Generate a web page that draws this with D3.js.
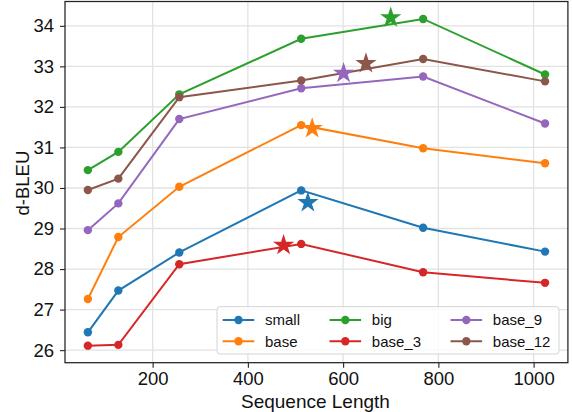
<!DOCTYPE html>
<html><head><meta charset="utf-8">
<script src="https://cdn.jsdelivr.net/npm/d3@7"></script>
<style>
body{margin:0;background:#fff}
svg{display:block}
text{font-family:"Liberation Sans",Arial,Helvetica,sans-serif}
</style>
</head><body>
<svg id="chart" width="572" height="412"></svg>
<script>
// Sequence lengths evaluated and d-BLEU per model
const seqLengths = [64, 128, 256, 512, 768, 1024];
const seriesNames = ["small", "base", "big", "base_3", "base_9", "base_12"];
const small  = [26.44, 27.47, 28.41, 29.94, 29.02, 28.43];
const base   = [27.26, 28.79, 30.03, 31.55, 30.98, 30.61];
const big    = [30.44, 30.89, 32.31, 33.68, 34.17, 32.80];
const base3  = [26.11, 26.13, 28.12, 28.62, 27.92, 27.66];
const base9  = [28.96, 29.62, 31.70, 32.46, 32.75, 31.59];
const base12 = [29.95, 30.23, 32.24, 32.65, 33.18, 32.63];
// Highlighted (star) point for each model
const starX = [526, 535, 700, 475, 601, 648];
const starY = [29.64, 31.47, 34.20, 28.59, 32.83, 33.07];
const xTicks = [200, 400, 600, 800, 1000];
const yTicks = [26, 27, 28, 29, 30, 31, 32, 33, 34];
const colors = ["#1f77b4", "#ff7f0e", "#2ca02c", "#d62728", "#9467bd", "#8c564b"];

const seriesValues = [small, base, big, base3, base9, base12];
const series = seriesNames.map((name, i) => ({
  name, color: colors[i],
  points: seqLengths.map((x, j) => ({x, y: seriesValues[i][j]})),
  star: {x: starX[i], y: starY[i]}
}));

const svg = d3.select("#chart");
const plotL = 65, plotR = 567.9, plotT = 1.5, plotB = 362.7;

const x = d3.scaleLinear().domain([16, 1072]).range([plotL, plotR]);
const y = d3.scaleLinear().domain([25.69, 34.6]).range([plotB, plotT]);

// grid
const grid = svg.append("g");
grid.selectAll(".gx").data(xTicks).join("line")
  .attr("x1", d => x(d)).attr("x2", d => x(d))
  .attr("y1", plotT).attr("y2", plotB)
  .attr("stroke", "#e2e2e2").attr("stroke-width", 1.3);
grid.selectAll(".gy").data(yTicks).join("line")
  .attr("x1", plotL).attr("x2", plotR)
  .attr("y1", d => y(d)).attr("y2", d => y(d))
  .attr("stroke", "#e2e2e2").attr("stroke-width", 1.3);

// axes
const xAxis = svg.append("g").attr("transform", `translate(0,${plotB})`)
  .call(d3.axisBottom(x).tickValues(xTicks).tickSize(5).tickPadding(4).tickFormat(d3.format("d")));
const yAxis = svg.append("g").attr("transform", `translate(${plotL},0)`)
  .call(d3.axisLeft(y).tickValues(yTicks).tickSize(5).tickPadding(6).tickFormat(d3.format("d")));
[xAxis, yAxis].forEach(g => {
  g.select(".domain").remove();
  g.selectAll("line").attr("stroke", "#222").attr("stroke-width", 1.1);
  g.selectAll("text").attr("fill", "#111").style("font-size", "18.5px");
});

// frame
svg.append("rect").attr("x", plotL).attr("y", plotT)
  .attr("width", plotR - plotL).attr("height", plotB - plotT)
  .attr("fill", "none").attr("stroke", "#222").attr("stroke-width", 1.25);

// axis titles
svg.append("text").attr("x", (plotL + plotR) / 2 - 1).attr("y", 407.5)
  .attr("text-anchor", "middle").style("font-size", "19px").attr("fill", "#111")
  .text("Sequence Length");
svg.append("text").attr("transform", `translate(29,${(plotT + plotB) / 2 + 1}) rotate(-90)`)
  .attr("text-anchor", "middle").style("font-size", "18.5px").attr("fill", "#111")
  .text("d-BLEU");

// lines with markers
const line = d3.line().x(d => x(d.x)).y(d => y(d.y));
const plot = svg.append("g");
series.forEach(s => {
  const g = plot.append("g");
  g.append("path").datum(s.points).attr("d", line)
    .attr("fill", "none").attr("stroke", s.color).attr("stroke-width", 2);
  g.selectAll("circle").data(s.points).join("circle")
    .attr("cx", d => x(d.x)).attr("cy", d => y(d.y)).attr("r", 4.2)
    .attr("fill", s.color);
});
// stars
const star = d3.symbol().type(d3.symbolStar).size(140);
series.forEach(s => {
  plot.append("path").attr("d", star())
    .attr("transform", `translate(${x(s.star.x)},${y(s.star.y)})`)
    .attr("fill", s.color);
});

// legend (3 columns, filled column-wise)
const legend = svg.append("g");
legend.append("rect").attr("x", 217).attr("y", 306.7)
  .attr("width", 342).attr("height", 47.3).attr("rx", 3)
  .attr("fill", "#fff").attr("fill-opacity", 0.8)
  .attr("stroke", "#d4d4d4").attr("stroke-width", 1);
const rowsY = [320, 341.3];
let colX = 222.7;
for (let c = 0; c < 3; c++) {
  let maxW = 0;
  for (let r = 0; r < 2; r++) {
    const s = series[c * 2 + r];
    const ly = rowsY[r];
    legend.append("line").attr("x1", colX).attr("x2", colX + 31.6)
      .attr("y1", ly).attr("y2", ly).attr("stroke", s.color).attr("stroke-width", 2);
    legend.append("circle").attr("cx", colX + 15.8).attr("cy", ly).attr("r", 4.2).attr("fill", s.color);
    const t = legend.append("text").attr("x", colX + 42.3).attr("y", ly + 5.3)
      .style("font-size", "15px").attr("fill", "#111").text(s.name);
    maxW = Math.max(maxW, t.node().getComputedTextLength());
  }
  colX = colX + 42.3 + maxW + 29.5;
}
</script>
</body></html>
